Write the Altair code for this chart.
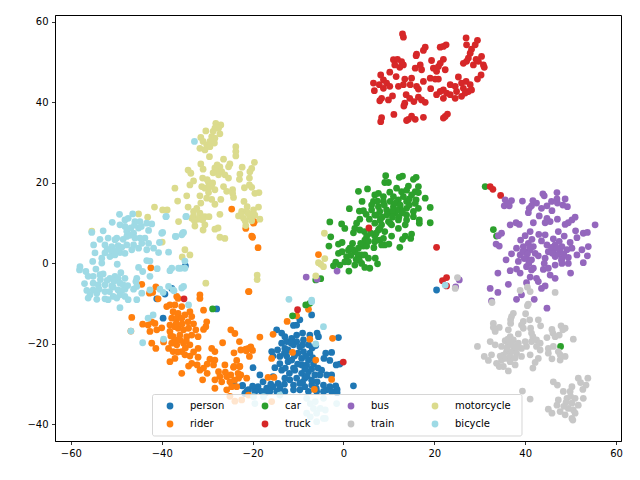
import altair as alt
import pandas as pd

person = [(-7,-12.8),(-9.6,-14),(-10.3,-15.3),(-11,-15.4),(-14.7,-16.5),(-13.6,-17.3),(-12.9,-18.2),(-13.6,-19.8),(-12.5,-19.4),(-11.4,-18.6),(-10.3,-17.8),(-9,-17.3),(-10.3,-19.4),(-8.8,-19),(-7.4,-17.8),(-5.8,-17.3),(-5.5,-18.2),(-11,-20.2),(-9.6,-20.7),(-7.7,-20.2),(-1.1,-18.4),(-6.1,-20.4),
(-15.8,-21.9),(-14.5,-21.5),(-15.5,-23),(-12.9,-21.1),(-12.2,-21.5),(-10,-22.3),(-8.8,-21.9),(-7.4,-22.3),(-9.2,-23.6),(-7.7,-24),(-2.6,-22.1),(-3.9,-22.3),(-4.3,-23.6),(-3,-24.1),(-14,-23.1),(-12.2,-24.4),(-11.4,-24),(-14,-24.9),(-15.1,-25.9),(-13.6,-26.5),(-19.9,-25.9),(-9.2,-25.2),(-8.1,-25.2),(-6.6,-25),
(-1.6,-25.2),(-0.8,-25),(-11.9,-27.3),(-10.7,-26.5),(-9.2,-27.3),(-7.7,-26.9),(-6.3,-27.7),(-4.8,-26.5),(-18.4,-27.7),(-15.5,-28.1),(-11.8,-28.9),(-10.3,-28.5),(-8.5,-28.5),(-5.2,-27.7),(-3.7,-27.7),(-2.6,-27.7),(-17.7,-29.4),(-14.4,-29.8),(-12.9,-28.5),
(2.2,-30.4),(-22.2,-30.3),(-18.8,-30.6),(-21,-31.4),(-18.8,-31.4),(-16.9,-31),(-15.5,-30.6),(-14,-31),(-11,-30.2),(-9.6,-29.8),(-8.5,-30.6),(-7,-30.2),(-5.8,-29.4),(-4.4,-30.2),(-3,-30.6),(-1.7,-30.4),(-1.4,-31.3),(-3.7,-31.4),
(-21.3,-31.8),(-19.5,-31.8),(-18,-31.8),(-16.2,-31.8),(-14.7,-31.8),(-12.9,-31.8),(-11,-31.4),(-9.6,-31.4),(-7.7,-31.8),(-5.9,-31.8),(-4.4,-31.8),(-2.6,-31.8),(-1.4,-32.1),
(-39.7,-13.6),(-41.1,-8.8),(-39.3,-7.6),(-27.9,-11.3),(-37.8,-6.2),(-34.8,-0.6),(20.5,-6.6),(-24.1,-29.4),(-22.3,-30.4),(-20.9,-31.4),(-21.7,-32.3),
(-11.5,-19.8),(-9,-20.2),(-8.3,-23),(-6.9,-21),(-10.8,-23),(-6.8,-23.4),(-8.5,-26.2),(-7,-26.2),(-10.1,-25),(-12.8,-26),(-11,-26),(-5.6,-26),(-13,-30),(-16,-30),(-12.5,-23),(-13,-22.3),(-8,-28),(-7,-29),(-9,-29.5),(-6,-31),(-17,-32),(-20,-30.5)]

rider = [(-44.4,-5.2),(-42.7,-7.4),(-42,-7.2),(-41.3,-5.8),(-40.8,-8.8),(-31.6,-7.8),(-31.6,-8.7),(-20.9,-7),(-36.4,-8.7),(-38.2,-10.3),(-37.1,-10.3),(-38.9,-10.7),(-35.6,-10.7),(-33.8,-12),(-46.6,-13.4),(-44.2,-15.1),(-43,-15.3),(-42.2,-14.5),(-41.5,-14.9),(-37.5,-12),(-36.4,-12.4),(-34.9,-12.8),(-37.8,-13.6),(-36.7,-13.6),(-35.6,-13.6),(-33.4,-13.2),(-30.8,-11.6),(-30.1,-14.5),(-30.3,-15.7),(-30.8,-16.4),
(-46.8,-16.8),(-42.6,-16.9),(-41.1,-16.5),(-38.2,-15.3),(-37.1,-15.7),(-38.2,-16.9),(-36.4,-16.1),(-35.2,-16.5),(-34.1,-16.1),(-37.5,-18.2),(-36,-17.8),(-34.5,-18.2),(-33.4,-17.8),(-32,-18.2),(-42.2,-19.8),(-41.3,-21.1),(-37.8,-19.8),(-38.5,-21.1),(-36.7,-20.2),(-35.2,-19.8),(-33.8,-20.2),(-32,-21.1),(-37.5,-21.9),(-35.6,-21.9),(-34.9,-22.7),(-38.2,-24.4),(-37.1,-23.6),(-33.8,-23),(-32,-23.3),
(-35.6,-27.3),(-34.1,-25.5),(-33.4,-24.8),(-32.2,-25.2),(-31.6,-26.5),(-30.8,-26),(-30,-27.3),(-31,-28.9),(-29,-21.1),(-28.3,-21.9),(-29.4,-23.8),(-28.3,-24),(-28.6,-25.2),(-26.6,-19.7),(-24.8,-16.5),(-23.9,-17.4),(-24.1,-22.2),(-23.5,-24.1),(-22.6,-21.5),(-20.9,-21.1),(-21.4,-21.7),
(-26.1,-25.2),(-24.2,-25.8),(-22.9,-25.6),(-24.8,-27.7),(-22.6,-27.7),(-27.5,-26.9),(-27.2,-28.1),(-25.7,-28.1),(-28.3,-28.9),(-26.8,-29.4),(-25,-29.4),(-23.1,-28.5),(-28.3,-31),(-25.7,-31.4),(-23.5,-30.6),(-24.6,-30.6),
(-10.3,-13),(-7.7,-11.4),(-12.4,-14.4),(-15.5,-17.6),(-18.4,-18.3),(-7.4,-18.8),(-2.4,-18.6),(-11.2,-22.1),(-15.8,-23.6),(-6.1,-24),(-16.6,-28.3),(-15.3,-28.3),(-2.6,-28.8),(-6.4,-31.3),(-22.9,-19.4),(-21.5,-21.3),(-20.4,-20.7),(-20,-21.6),(-20.7,-23.1),(-24.1,-25.6),(-22.8,-25.6),(-23.2,-27.3),(-21.3,-28.5),
(-42.4,-1.1),(-36.7,-8.2),(-24.6,13.5),(-19.8,10),(-19.6,10.4),(-21.5,8.7),(-20.2,6.8),(-20,6.5),(-18.8,3.9),(-20.8,-7),(-5.5,2.2),
(-25,-33),(-23.9,-34.2),(-22.4,-33.9),(-20.9,-32.7),(-15.8,-34.3),
(-36.8,-14.8),(-35.5,-15),(-33,-15),(-37,-19),(-36,-19),(-34.6,-19.2),(-34.8,-21),(-36.5,-22),(-33,-22),(-38,-18),(-32.5,-16.5),(-34.2,-14.5),(-40,-16),(-39.6,-19.5),(-26,-27),(-24,-29),(-30,-25)]

car = [(9.3,21.8),(12.3,21.4),(13,21.7),(15.4,20.9),(16,21.4),(9.1,20.1),(9.9,20.1),(16.5,19.1),(14.3,19.2),(11.7,18.7),(3.3,17.9),(5.3,18.5),(7.7,17.4),(6.9,17),(10.2,17.7),(12.8,17.8),(13.9,18.2),(15.8,17.8),(16.5,17.6),(8.8,16.6),(11,16.6),(13.2,16.6),(15,17),(16,15.8),(18,16.2),(4.1,15.4),
(6.6,15.4),(8.8,15.4),(10.3,15.4),(12.1,15.8),(13.9,15.4),(15.8,14.9),(6.2,14.5),(7.7,14.1),(1.3,13.6),(3.5,13),(4.4,13.1),(6.2,13.3),(8,12.9),(9.5,13.3),(11,14.1),(12.5,13.7),(13.9,13.7),(15.4,12.9),(16.5,13.7),(19.1,13.9),
(6.9,12),(9.5,12),(11.3,12.5),(12.8,12.5),(13.9,12),(15.4,11.6),(16.7,10.8),(16.7,10),(19.1,10.1),(3.6,11),(5.7,11),(8.1,10.8),(9.9,10.4),(12.1,10.8),(13.9,10.8),(10.3,10),(-3,10.3),(-0.4,9.8),(0.3,8.7),
(2.9,10),(2.5,8.7),(2.2,7.6),(3.6,8.3),(4.6,7.9),(6.9,10),(8.4,9.6),(8,8.7),(7.7,8.3),(10.6,9.6),(12.1,8.7),(13.6,9.6),(9.1,7.9),(10.6,6.8),(15,7.3),(14.8,6.2),(13.6,6.8),(13,6),(-2.8,6.6),(-3.2,4.3),
(5.1,6.7),(4.7,5.8),(6.9,6.8),(8,5.8),(8.8,6.2),(6.9,5.4),(9.1,4.6),(10,4.8),(8.4,4.6),(12.4,4),(-1.1,4.8),(-0.3,5.2),(2,5),(1.4,3.8),(1.1,3.3),(-1.1,2.5),(-0.3,2.9),(4.4,4.3),(5.1,4.3),(6.7,3.9),
(3.3,3.8),(2.5,2.9),(4,2.1),(3.3,1.7),(4.7,2.1),(5.5,1.3),(7,1.3),(7.5,-0.1),(0.7,1.7),(0.3,0.4),(1.1,0.4),(2.5,-0.4),(4,0),(4.7,-1),(5.8,-1.2),(-1.7,0.3),(-2.2,-0.6),(-0.8,-0.4),(1.2,-1.9),(-6.1,-4.1),(-5,-3.8),
(31.2,19.1),(33,8.4),(33.7,6.8),(47.8,-20.6),(-8.3,-10.3),(-7.4,-9.9),(-11.2,-13),(-28.8,-11.3),
(11.5,15),(12.5,14.5),(11.8,13.2),(13,13),(10.5,12.5),(9,14.5),(7.5,15.5),(10.8,13),(14.5,14.5),(12.2,11.5),(10.8,11.5),(7.2,12),(5,12.2),(8.5,11.5),(14.5,16),(3.2,2.2),(2,3.5),(1.6,2),(2.8,1),(3.5,0.8),(5.5,5.5),(3.8,5),(6,7.5),(7.2,7.5)]

truck = [(13,57),(13.2,56.2),(18,53.7),(17.6,52.9),(16.1,52),(16,51.6),(21.3,53.7),(22.6,54.3),(22,53.9),(27,56),(27.1,54.3),(29.5,55.4),(29,54.3),(28.2,53.2),(27.9,52.2),(27.5,51),(27.1,50.2),(26.4,49.7),(30.4,51.4),(29.2,50.7),(28.6,49.3),(29.7,50.2),(30.8,49.3),(31,48.7),(30.3,46.8),(29.5,45.8),
(19.4,50.4),(19.8,48.5),(20.9,48.9),(22,50.7),(21.3,49.7),(20.5,47.7),(22.4,48.1),(16.9,49.3),(15.8,48.5),(17.2,48.1),(11,50.6),(11.9,50.7),(13.2,49.3),(12.4,48.7),(11.3,49.3),(12.8,50.1),(10.2,47.5),(11.6,46.4),
(8.2,46.8),(8.8,45.6),(6.6,44.8),(7.9,44.4),(9.5,44.8),(6.8,42.9),(8.8,43.5),(10.2,44),(8.4,41),(8,40.4),(9.9,40.6),(10.8,41.6),(13.5,45.8),(15,46),(13.2,44.4),(14.7,44.4),(16.1,44),(16.5,43.3),(12.1,44),(19.1,46),(17.6,45.2),(20.9,45.8),(20.2,45.8),(19.2,43.4),
(13.8,41.9),(13.5,39.8),(13.3,39.1),(14.6,41),(15.5,40.2),(16.5,41.3),(17.2,40.6),(18,40),(11.1,37),(8.4,36.2),(8.2,35.2),(14.3,35.8),(13.9,35.5),(15.8,35.8),(15,36.6),(17.6,36.3),(22,36.1),(22.9,37.1),(22.4,36.5),
(25.3,46.3),(27,45.2),(27.9,44.4),(26,44.8),(28.2,43.1),(24.6,44),(23.5,44.4),(24.9,42.7),(26.4,43.5),(27.5,42.7),(22,43.1),(22.7,42.3),(21.3,42.7),(20.5,41.9),(22,41),(23.5,41.9),(24.6,41),(26,41.5),(26.8,42.3),
(5.6,8.8),(20.5,4),(21.8,-4.3),(22.7,-3.5),(22.7,-5.6),(32.3,19.1),(32.9,18.4),(34.6,16.9),(-10.1,-11.5),(-0.04,-24.5),(-35.1,-8.8)]

bus = [(43.9,17.3),(44.2,16.8),(47,17.6),(39.4,15.5),(35.6,15.8),(37,15.6),(35.4,14.3),(36.5,14.3),(36.1,15),(41.7,15.6),(42.5,15),(41.4,14.3),(40.9,13.7),(40.7,12.6),(45.8,15.4),(47,16),(48.8,16),(44.8,14.3),(43.6,13.7),(47.1,15),(48.3,14.5),(49.3,14.1),(45.9,13.1),
(43.1,11.8),(44.8,11.2),(45.5,10.4),(44.4,10.1),(47.1,11),(41.8,10.1),(36.7,9.6),(38,10.1),(38.7,9.7),(51,11.5),(50.3,10.8),(49.5,10.1),(48.8,9.7),(55.4,9.6),(41.1,7.9),(43,7.2),(44.4,7.1),(40,6.9),(47.3,7.9),(48.6,6.8),(51.1,8.1),(51.4,6.4),(52.8,7.5),(53.7,7.7),(34.8,7.5),(34.1,6.9),
(33.6,4.8),(34.3,4.3),(39,5.8),(43.6,5.6),(46.2,6.1),(49.9,5.2),(53.9,4.2),(52.5,3.4),(50.3,3.8),(38.1,3.8),(39.6,4.2),(40.7,5),(41.8,4.2),(40,2.9),(41.1,3.4),(42.2,2.5),(44.8,4.6),(45.1,2.9),(46.6,4.6),(48.1,4.2),(46.2,3.4),(47.7,2.9),(49.2,3.4),
(37,2.4),(35.8,0.9),(38.9,2.1),(38.5,0.5),(40.3,1.3),(41.4,0.9),(42.9,1.9),(44.4,1.3),(44.2,0),(46.6,1.7),(48.1,1.3),(49.5,1.5),(51.4,2.1),(53.7,1.9),(52.8,0.2),(46.6,-0.4),(48.1,0),(49.5,0),
(40.3,-0.8),(41.8,-1.2),(41.4,-1.6),(36.7,-1.8),(38.1,-1.4),(38.9,-2.4),(34,-2.4),(44,-1.5),(45.1,-1.2),(45.5,-2.9),(46.6,-3.7),(50,-2.4),(41.1,-3.4),(42.5,-3.7),(42.9,-4.5),
(36.3,-5.2),(32.3,-6.2),(34,-7.2),(40.3,-4.8),(39.2,-7.8),(43.6,-6.2),(44.4,-5.6),(38.1,-8.9),(42,-8.9),(32.6,-9.3),(44.8,-11.1),(-8.2,-3.4),(-1.4,-1.9),(-5.8,-3.9),(25.5,-4.1),(24.7,-5.8),
(39.5,3),(40.5,2.4),(41,4),(39.8,1.2),(40.8,0),(45.8,4),(47,3.8),(47,2.2),(46,2.5),(48.5,2.3),(41.5,6),(47.5,5.5),(48,0.8)]

train = [(37.4,-12.4),(40.1,-12.5),(37,-13.2),(36.8,-14),(36.8,-14.9),(42.9,-14),(39.6,-14.4),(41,-14),(39.2,-15.3),(43.4,-15.5),(39.6,-16.1),(33,-14.9),(34.3,-15.9),(33,-15.9),(33.4,-16.9),(36.3,-16.5),(38.5,-17.5),(41.2,-16.1),(41.4,-17.3),(41.7,-18.2),(45.9,-16.4),(47.9,-15.5),(48.8,-16.1),(48.3,-16.5),(46.1,-17.3),(47.5,-17.8),(44.8,-18.4),(46.6,-18.2),(50.6,-18.8),
(35.6,-19.2),(36.7,-18.2),(37.4,-19),(38.5,-19.8),(40,-19.4),(41.4,-19.4),(42.5,-19),(43.3,-19.8),(32.3,-19.4),(33.4,-20.2),(29.5,-20.6),(34.8,-20.6),(36.3,-20.2),(37.4,-20.6),(40.3,-20.6),(42.5,-20.6),(43.3,-21.5),(39.2,-21.1),
(35.9,-21.9),(37,-21.9),(38.1,-22.3),(32.6,-22.7),(31,-23.1),(31.9,-24.1),(35.6,-23.6),(36.7,-23.1),(39.2,-23.1),(41.1,-22.7),(45.1,-21.1),(46.2,-20.6),(45.1,-22.3),(47.3,-21.9),(45.9,-23.7),(47.7,-24),(48.8,-23.1),(47.7,-22.7),
(34.8,-24),(33.7,-24.8),(34.3,-25.6),(35.2,-25.6),(36.7,-24.4),(37.8,-25.2),(36.3,-26.7),(42.9,-23.6),(42.2,-24.6),(41.7,-26),
(46.2,-29.4),(47.1,-30.2),(51.7,-28.5),(53.8,-28.5),(52.2,-29.6),(53.4,-30.2),(52.7,-31.3),(50.3,-30.6),(48.4,-31.8),(49.9,-31.8),(39.4,-31.7),(41.1,-33.7),
(47.3,-33.9),(49.2,-33.5),(51,-33.5),(52.8,-33.5),(50.3,-34.7),(51.7,-35.2),(47,-35.2),(45.1,-36.2),(49.5,-36),(50.6,-36.4),(45.9,-37.2),(47.7,-36.8),(48.8,-37.6),(51,-37.2),(50.3,-38.5),(50.5,-38.9),
(38.9,-6.7),(40.5,-5.9),(41.1,-7),(46.6,-7.2),(32.7,-9.7),(40.7,-10.1),(40.5,-10.5),(25.1,-3.5),(24.6,-6.2),
(36,-21),(37,-20),(35.2,-22.8),(37.8,-23.5),(36.2,-18.8),(38,-21),(34.5,-23),(49,-34.5),(50,-33),(48.5,-35.5)]

motorcycle = [(-28.1,34.8),(-27,34.4),(-28.3,33.6),(-27.5,33.6),(-28.7,32.8),(-27.2,32.2),(-30.3,32.9),(-31.4,31.3),(-29,31.5),(-28.3,31.1),(-30.9,30.3),(-29.4,30.3),(-28.4,29.9),(-30.1,29.4),(-31.6,28.6),(-30.5,28.2),(-29.4,29),(-29.5,26.5),
(-23.7,29),(-23.7,27.8),(-23.7,26.7),(-26.4,25.9),(-25,24.7),(-25.3,24),(-19.6,25.1),(-31.4,24.7),(-30.9,23.4),(-34.2,23.2),(-33.6,22.4),(-22.3,23.9),(-22.8,22.2),(-22.9,20.9),(-20.2,23.6),(-20.6,22.8),
(-28.3,23.7),(-27.2,24),(-27.9,22.8),(-26.8,22.8),(-27.5,22),(-26.1,22),(-25.3,21.2),(-20.7,21.2),(-20.7,19.5),(-20.2,18.9),(-21.8,18.8),(-19.5,17.4),(-18.6,17.6),(-24.4,18.3),(-24.4,17.4),(-24.2,16.4),
(-31,21.2),(-33,20.5),(-33.8,19.5),(-37.1,18.7),(-31.2,19.1),(-29.7,20.1),(-30.5,18.7),(-29,19.5),(-28.3,18.3),(-29.7,17.6),(-26.4,19.1),(-25.7,17.9),(-34.5,16.8),(-31.6,16.8),(-30.1,16.2),(-29,15.9),(-36.5,15.5),(-27,15.9),(-28.3,14.7),
(-39.8,13.3),(-38.8,13.3),(-34.2,14),(-31.4,15),(-32.3,13.7),(-33,12.9),(-33.4,11.2),(-31.6,12.5),(-30.5,11.6),(-29.6,11.6),(-27.2,12.2),(-32.7,9.3),(-30.5,9.6),(-30.9,8.3),(-28.3,8.5),(-27.2,6.5),(-26.1,6.2),(-33,11.8),
(-21.9,15.4),(-21.2,14.1),(-22.4,12.9),(-21.3,12.9),(-19.8,13.3),(-18.7,14),(-23.1,11.8),(-22,11.2),(-20.6,11.6),(-19.5,12),(-18.4,11),(-20.2,10.6),(-21.5,9.4),
(-4.2,7.5),(-4.1,1.2),(-5.5,0.2),(-5,-0.2),(-4.4,-0.8),(-6.1,-3.1),(-45.1,12.3),(-43.1,11.5),(-41.6,14),(-55.4,8),(-39.9,5.3),(-34.9,3.4),(-33.8,2.1),(-35.5,1.6),(-36.3,10.4),(-30.3,-4.9),(-19,-2.9),(-19,-4),(-27.6,8.8),
(-22.5,12.2),(-21,12.4),(-20,12.2),(-21.6,10.5),(-28.8,20),(-29.5,19),(-27.8,24.5),(-28.7,22.5),(-30,20.8),(-31.5,12),(-32,11),(-31,10.8),(-32.8,10.6)]

bicycle = [(-49.3,12.2),(-46.4,12.3),(-50.9,10.2),(-48.1,10.8),(-47.4,11.2),(-49.2,9.6),(-48.1,9.2),(-45.9,10.4),(-44.8,10.4),(-43.3,10),(-42.2,9.8),(-52.9,8.1),(-55.4,7.7),(-46.8,8.8),(-45.1,8.8),(-47.7,8),(-46.2,7.5),(-42.9,8.2),(-43.7,6.3),(-44.8,6.3),(-47.7,6.7),(-45.9,6.3),(-51.8,6.3),(-50.3,5.9),(-49.9,6.3),
(-53.6,6),(-55,4.6),(-52.5,4.6),(-51,4.2),(-49.6,4.4),(-47.7,4.6),(-46.2,4.6),(-44.4,5),(-42.9,5),(-40.5,5.2),(-54.7,2.6),(-52.5,2.6),(-51,3),(-49.2,2.7),(-46.6,3.4),(-45.1,3.8),(-43.3,3.4),(-41.8,3.8),(-40.7,2.7),(-38.5,2.8),(-40,7.5),(-39,11.7),
(-53.2,1.3),(-55.2,0.5),(-51.4,1.7),(-50.3,2.1),(-48.1,2.5),(-53.2,0.1),(-49.8,-0.2),(-43.3,0.7),(-42.6,0.6),(-36.9,6.7),(-35.2,7.7),(-35.6,7.1),(-34.6,11.7),(-34.9,0.6),
(-58,-0.8),(-58.1,-1.6),(-56.7,-2),(-54.5,-1.4),(-45.1,-1),(-44.2,-2),(-41,-1.3),(-37.8,-1.2),(-38.2,-1.8),(-36.3,-1.2),(-35.8,-1.2),(-34.9,-1.2),(-42.6,-3.2),
(-56.2,-3.2),(-55.1,-3.2),(-53.6,-2.8),(-52.9,-2.6),(-51.4,-3.7),(-50.3,-3.2),(-49,-2.3),(-49.6,-3.7),(-48.1,-3.7),(-45.5,-3.7),(-45.7,-4.5),(-57,-5),(-55.1,-4.9),(-54,-5.3),(-52.5,-5.3),(-51,-5.6),(-49.2,-4.9),(-48.5,-5.3),(-45.5,-5.7),
(-56.5,-6.7),(-55.1,-6.6),(-55.8,-7.8),(-54.3,-7.4),(-52.5,-7),(-50.7,-5.9),(-49.6,-6.6),(-48.1,-6.4),(-46.2,-6.4),(-49.2,-7.8),(-50.7,-8.2),(-56.2,-8.6),(-54.3,-8.9),(-52.5,-8.8),(-51.8,-9),(-49.9,-8.6),(-48.1,-8.2),(-47.4,-9),(-45.5,-9),(-44.4,-7.4),(-42.6,-6.6),(-40.4,-6.4),(-38.5,-5.7),(-37.3,-6.8),(-35.2,-5.7),(-35.6,-6.1),(-49.2,-11),
(-39.7,-7.2),(-37.5,-6.6),(-34.1,-10.3),(-41.9,-12.8),(-43,-13.6),(-46.8,-16.8),(-44.2,-19.7),(-39.6,-18.8),(-12,-8.9),(-7,-9.5),(-4.4,-15.7),(-6.1,-20),(22.4,-5.4),(-7,-9.1),(-32.8,30.3),(-39.1,11.6),(-34.7,11.6),(-39.8,7.7),(-37,6.7),(-35.4,7.5),
(-19.8,-33.1),(-19.5,-34.8),(-17.6,-33.1),(-14,-32.7),(-8.1,-33.5),(-7.3,-34.8),(-6.2,-34.3),(-4.4,-33.5),(-1.5,-34.8),(-6.6,-36),(-5.1,-36),(-4,-36.4),(-8.1,-37.2),(-7.3,-38.1),(-5.9,-37.2),(-4.4,-38.5),(-5.9,-39.3),(-4,-38.5),
(-46,9.5),(-47,7),(-48.8,4),(-50,3.2),(-52,3.5),(-53.5,-4),(-52,-4.2),(-50.5,-4.4),(-53.8,-6.4),(-51.5,-7),(-48.8,-6.8),(-47.5,-5.5),(-44.5,9.2),(-48.5,6)]

series = [("person", person), ("rider", rider), ("car", car), ("truck", truck),
          ("bus", bus), ("train", train), ("motorcycle", motorcycle), ("bicycle", bicycle)]
rows = [{"x": p[0], "y": p[1], "c": name} for name, pts in series for p in pts]
df = pd.DataFrame(rows)

names = [s[0] for s in series]
colors = ["#1f77b4", "#ff7f0e", "#2ca02c", "#d62728", "#9467bd", "#c7c7c7", "#dbdb8d", "#9edae5"]

points = alt.Chart(df).mark_circle(size=46, opacity=1).encode(
    x=alt.X("x:Q", scale=alt.Scale(domain=[-63.5, 61.1], nice=False, zero=False),
            axis=alt.Axis(values=[-60, -40, -20, 0, 20, 40, 60], title=None, grid=False)),
    y=alt.Y("y:Q", scale=alt.Scale(domain=[-44.1, 61.7], nice=False, zero=False),
            axis=alt.Axis(values=[-40, -20, 0, 20, 40, 60], title=None, grid=False)),
    color=alt.Color("c:N", scale=alt.Scale(domain=names, range=colors),
                    legend=alt.Legend(title=None, orient="none", legendX=106, legendY=382,
                                      columns=4, symbolType="circle", symbolSize=46,
                                      symbolStrokeWidth=0, labelOffset=15, columnPadding=35,
                                      rowPadding=8, labelFontSize=10, labelFont="DejaVu Sans",
                                      labelColor="black", padding=4)),
)

box = alt.Chart(df.head(1)).mark_rect(fill="white", fillOpacity=0.8, stroke="#cccccc",
                                      strokeOpacity=0.8, strokeWidth=1, cornerRadius=2).encode(
    x=alt.value(97.5), x2=alt.value(467), y=alt.value(379.5), y2=alt.value(421))

chart = (points + box).properties(
    width=566, height=426, autosize="none",
    padding={"left": 47, "top": 7, "right": 11, "bottom": 31},
).configure_view(stroke="black", strokeWidth=1).configure_axis(
    domainColor="black", tickColor="black", labelColor="black", tickSize=3.5, tickWidth=0.8,
    domainWidth=0.8, labelFont="DejaVu Sans", labelFontSize=10, labelPadding=3.5,
)

chart.save("out.html", embed_options={"renderer": "svg", "actions": False})
